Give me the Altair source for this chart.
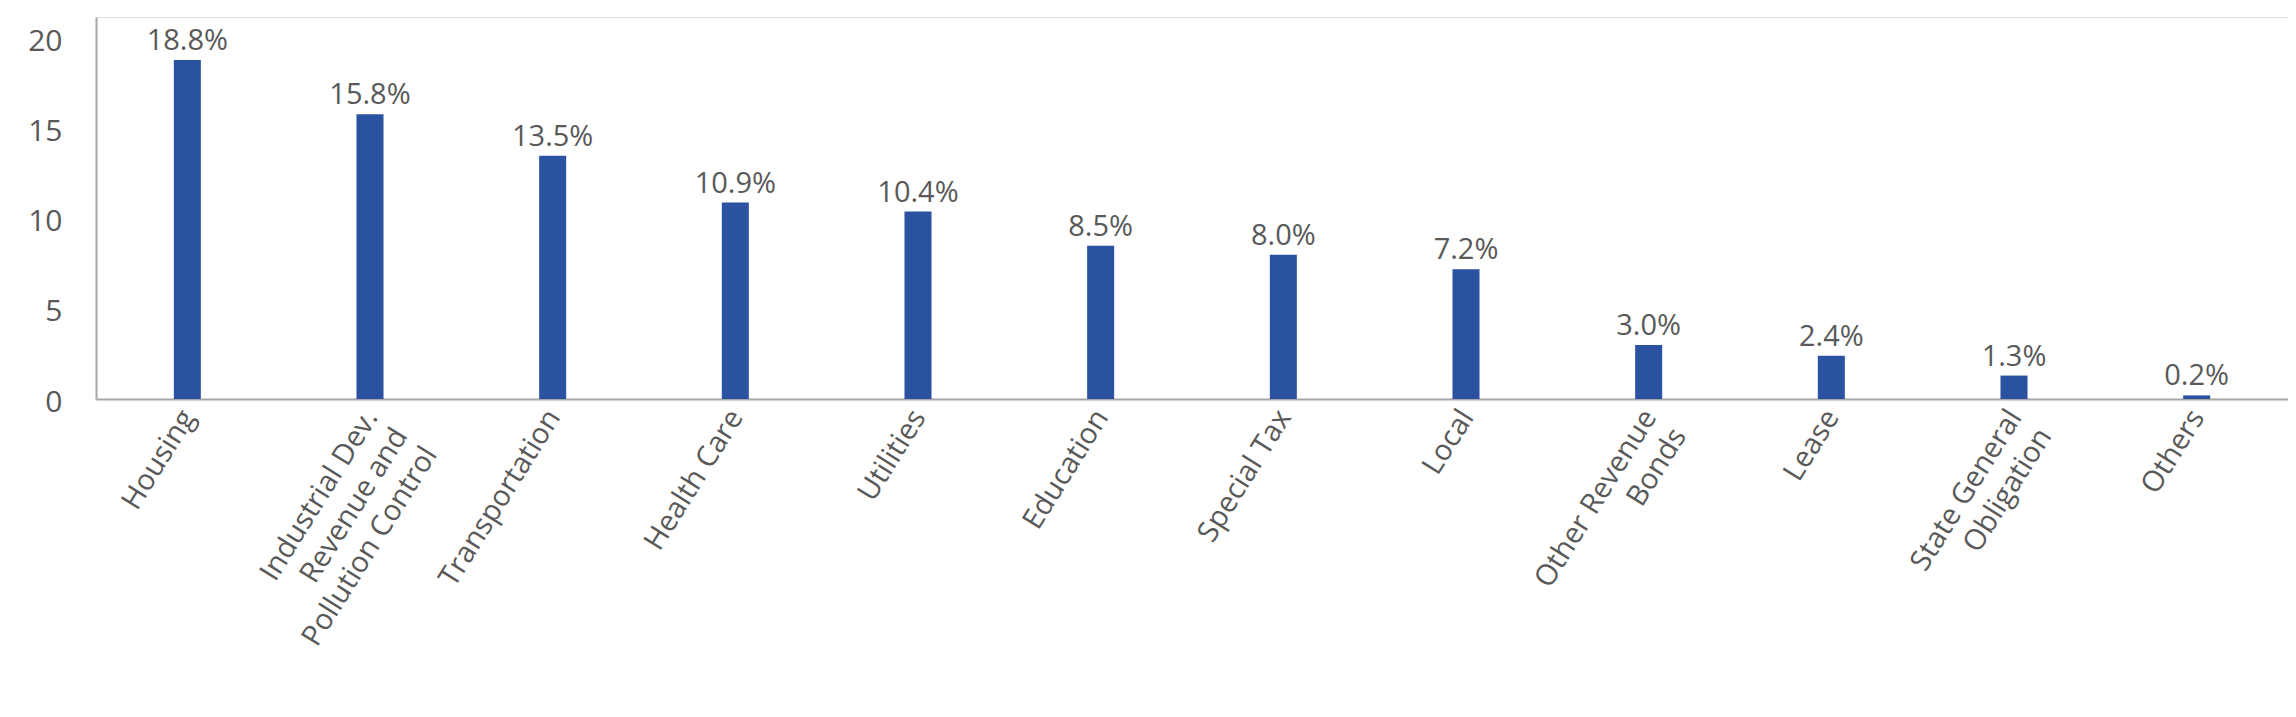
import altair as alt
import pandas as pd

categories = [
    "Housing",
    "Industrial Dev.|Revenue and|Pollution Control",
    "Transportation",
    "Health Care",
    "Utilities",
    "Education",
    "Special Tax",
    "Local",
    "Other Revenue|Bonds",
    "Lease",
    "State General|Obligation",
    "Others",
]
values = [18.8, 15.8, 13.5, 10.9, 10.4, 8.5, 8.0, 7.2, 3.0, 2.4, 1.3, 0.2]
y_ticks = [0, 5, 10, 15, 20]

df = pd.DataFrame({"category": categories, "value": values})

FONT = "Open Sans"
TEXT = "#595959"
BAR = "#2B52A0"
AXIS = "#A6A6A6"

W = 2192
H = 382

x = alt.X(
    "category:N",
    sort=categories,
    title=None,
    scale=alt.Scale(paddingInner=0.852, paddingOuter=0.426),
    axis=alt.Axis(
        labelExpr="split(datum.label, '|')",
        labelAngle=-58,
        labelAlign="right",
        labelBaseline="middle",
        labelFont=FONT,
        labelFontSize=29,
        labelColor=TEXT,
        labelLineHeight=35,
        labelPadding=13,
        labelOffset=1,
        ticks=False,
        tickSize=0,
        domainColor=AXIS,
        domainWidth=2,
        labelLimit=0,
        labelOverlap=False,
    ),
)
y = alt.Y(
    "value:Q",
    title=None,
    scale=alt.Scale(domain=[0, 21.19], nice=False, zero=True),
    axis=alt.Axis(
        values=y_ticks,
        grid=False,
        ticks=False,
        tickSize=0,
        labelFont=FONT,
        labelFontSize=30,
        labelColor=TEXT,
        labelPadding=34,
        labelOffset=3,
        domainColor=AXIS,
        domainWidth=2,
    ),
)

bars = alt.Chart(df).mark_bar(color=BAR).encode(x=x, y=y)
labels = (
    alt.Chart(df)
    .transform_calculate(txt="format(datum.value, '.1f') + '%'")
    .mark_text(font=FONT, fontSize=29, color=TEXT, baseline="alphabetic", dy=-10)
    .encode(x=x, y=y, text="txt:N")
)

chart = (
    alt.layer(bars, labels)
    .properties(
        width=W,
        height=H,
        autosize=alt.AutoSizeParams(type="none"),
        padding={"left": 88, "top": 9, "right": 0, "bottom": 300},
    )
    .configure_view(stroke=None)
    .configure(background="white")
)

chart.save("out.html", embed_options={"renderer": "svg", "actions": False})
